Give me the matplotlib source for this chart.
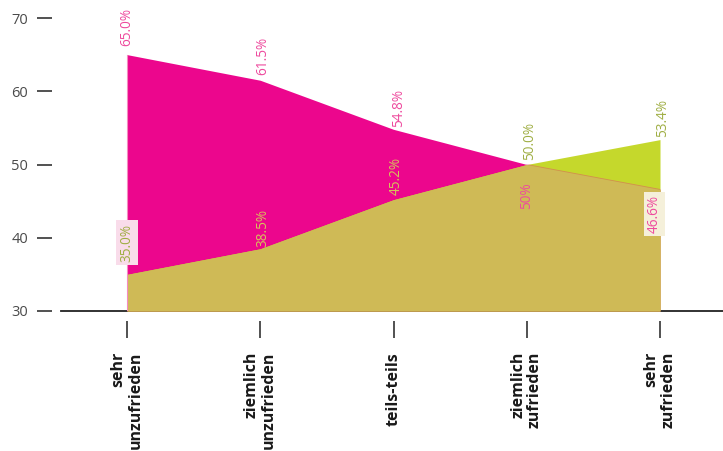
import matplotlib
matplotlib.use("Agg")
import matplotlib.pyplot as plt
import numpy as np

# Satisfaction categories and shares (%) of the two groups
categories = ["sehr\nunzufrieden", "ziemlich\nunzufrieden", "teils-teils",
              "ziemlich\nzufrieden", "sehr\nzufrieden"]
magenta_values = [65.0, 61.5, 54.8, 50.0, 46.6]
green_values = [35.0, 38.5, 45.2, 50.0, 53.4]
magenta_labels = ["65.0%", "61.5%", "54.8%", "50%", "46.6%"]
green_labels = ["35.0%", "38.5%", "45.2%", "50.0%", "53.4%"]
y_ticks = [30, 40, 50, 60, 70]

MAGENTA = "#ec068d"
LIME = "#c5d82c"
KHAKI = "#cfba56"
MAG_TEXT = "#ee4b9e"
OLIVE_TEXT = "#9fae43"
KHAKI_TEXT = "#d6c45a"

plt.rcParams["font.family"] = ["Open Sans", "DejaVu Sans"]

W, H = 723, 451
fig = plt.figure(figsize=(W / 100, H / 100), dpi=100)
ax = fig.add_axes([61 / W, (H - 311) / H, (W - 61) / W, (311 - 18) / H])

x = np.arange(len(categories))
mag = np.array(magenta_values)
grn = np.array(green_values)
base = y_ticks[0]

ax.fill_between(x, base, mag, color=MAGENTA, lw=0, zorder=2)
ax.fill_between(x, base, grn, color=LIME, lw=0, zorder=2)
ax.fill_between(x, base, np.minimum(mag, grn), color=KHAKI, lw=0, zorder=3)
# faint outline of the magenta area where it sits inside the green one
ax.plot(x[3:], mag[3:], color=MAGENTA, lw=0.6, alpha=0.35, zorder=4)
ax.plot([x[0], x[0]], [base, mag[0]], color="#f48cc0", lw=0.8, zorder=4)

ax.set_xlim(-66 / 133.25, 4 + 63 / 133.25)
ax.set_ylim(base, y_ticks[-1])

# baseline
ax.axhline(base, color="#222222", lw=1.3, zorder=1, clip_on=False)

for s in ["top", "right"]:
    ax.spines[s].set_visible(False)
ax.spines["left"].set_visible(False)
ax.spines["bottom"].set_visible(False)
ax.spines["left"].set_position(("outward", 9 * 0.72))
ax.spines["bottom"].set_position(("outward", 10 * 0.72))

ax.set_yticks(y_ticks)
ax.tick_params(axis="y", length=15 * 0.72, width=1.1, color="#222222",
               pad=6.5, labelsize=10.5, labelcolor="#4a4a4a")
ax.set_xticks(x)
ax.set_xticklabels(categories, rotation=90, fontweight="bold",
                   multialignment="right", fontsize=11.5, color="#1a1a1a",
                   linespacing=1.05)
ax.tick_params(axis="x", length=17 * 0.72, width=1.1, color="#222222", pad=10)

# value labels: (dx, dy) offsets in points, above or below the point
mag_offsets = [(0, 6), (2, 4), (4, 2), (0, -13), (-4, -4)]
grn_offsets = [(0, 9), (2, 1), (2, 3), (2, 3), (2, 2)]
grn_colors = [OLIVE_TEXT, KHAKI_TEXT, KHAKI_TEXT, OLIVE_TEXT, OLIVE_TEXT]

for i, (v, lab) in enumerate(zip(magenta_values, magenta_labels)):
    dx, dy = mag_offsets[i]
    kw = {}
    if i == 4:
        kw["bbox"] = dict(boxstyle="square,pad=0.25", fc="#f5f0da", ec="none")
    ax.annotate(lab, (x[i], v), xytext=(dx, dy), textcoords="offset points",
                rotation=90, ha="center", va="bottom" if dy > 0 else "top",
                fontsize=9.8, color=MAG_TEXT, zorder=6, annotation_clip=False, **kw)

for i, (v, lab) in enumerate(zip(green_values, green_labels)):
    dx, dy = grn_offsets[i]
    kw = {}
    if i == 0:
        kw["bbox"] = dict(boxstyle="square,pad=0.25", fc="#f9dcea", ec="none")
    ax.annotate(lab, (x[i], v), xytext=(dx, dy), textcoords="offset points",
                rotation=90, ha="center", va="bottom",
                fontsize=9.8, color=grn_colors[i], zorder=6, annotation_clip=False, **kw)

fig.savefig("out.png", dpi=100)
